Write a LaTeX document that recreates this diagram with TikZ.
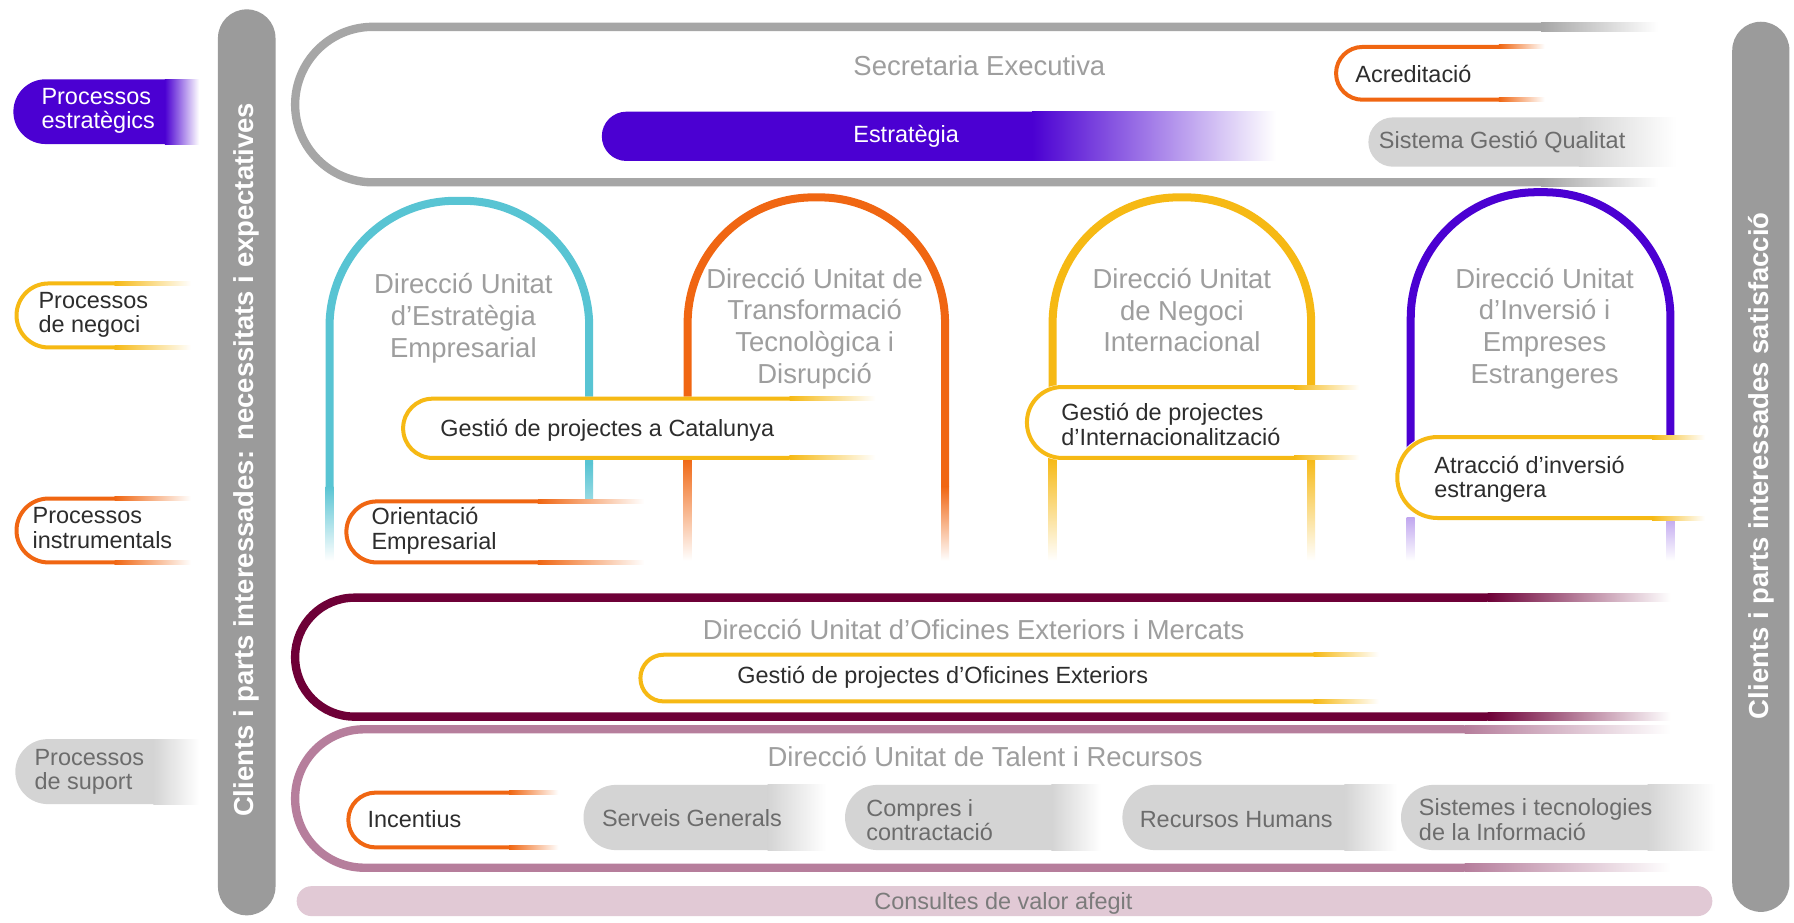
\documentclass[tikz,border=0pt]{standalone}
\usepackage{fontspec}
\setmainfont{Liberation Sans}
\usepackage{tikz}

\definecolor{barg}{RGB}{155,155,155}
\definecolor{boxg}{RGB}{166,166,166}
\definecolor{titg}{RGB}{158,158,158}
\definecolor{lila}{RGB}{75,0,210}
\definecolor{cian}{RGB}{88,196,211}
\definecolor{taronja}{RGB}{240,102,18}
\definecolor{groc}{RGB}{246,185,20}
\definecolor{grana}{RGB}{110,0,55}
\definecolor{malva}{RGB}{182,126,156}
\definecolor{rosa}{RGB}{225,201,213}
\definecolor{gclar}{RGB}{212,212,212}
\definecolor{gfosc}{RGB}{108,108,108}
\definecolor{negre}{RGB}{45,45,45}

\begin{document}
\begin{tikzpicture}
 [x=1pt,y=-1pt,
  gran/.style={font=\fontsize{24}{27.7}\selectfont,text=titg,align=center,inner sep=0pt},
  petit/.style={font=\fontsize{20.5}{21.5}\selectfont,text=negre,align=left,anchor=west,inner sep=0pt},
  vertical/.style={font=\fontsize{24}{27}\selectfont\bfseries,text=white,rotate=90,inner sep=0pt},
  vora/.style={line width=7.3pt},
  arcada/.style={line width=7pt},
  pastilla/.style={line width=3.5pt},
  fadeR/.style={left color=#1,right color=white},
  fadeD/.style={top color=#1,bottom color=white}]
 \fill[white] (0,0) rectangle (1568,806);
 \useasboundingbox (0,0) rectangle (1568,806);
 % barres laterals
 \fill[barg,rounded corners=25] (190.5,8.2) rectangle (240.8,800);
 \node[vertical] (clientsE) at (215.6,402) {Clients i parts interessades: necessitats i expectatives};
 \fill[barg,rounded corners=25] (1514,19) rectangle (1564,797);
 \node[vertical] (clientsS) at (1539,407) {Clients i parts interessades satisfacció};
 % Secretaria Executiva
 \draw[boxg,vora,rounded corners=67.9] (1347,23.45) -- (257.95,23.45) -- (257.95,159.35) -- (1347,159.35);
 \shade[fadeR=boxg] (1347,19.8) rectangle (1449,27.1);
 \shade[fadeR=boxg] (1347,155.7) rectangle (1449,163);
 \node[gran] (secre) at (856,57.4) {Secretaria Executiva};
 \fill[lila,rounded corners=21.5] (526,97.6) rectangle (930,140.7);
 \shade[fadeR=lila] (902,97.6) rectangle (1115,140.7);
 \node[petit,anchor=center,text=white] (estrat) at (792,119) {Estratègia};
 \fill[white,rounded corners=23] (1166,39.3) rectangle (1350,88.9);
 \draw[taronja,pastilla,rounded corners=23] (1310,41.05) -- (1167.75,41.05) -- (1167.75,87.15) -- (1310,87.15);
 \shade[fadeR=taronja] (1310,39.3) rectangle (1350,42.8);
 \shade[fadeR=taronja] (1310,85.4) rectangle (1350,88.9);
 \node[petit] (acred) at (1184.5,64.7) {Acreditació};
 \fill[gclar,rounded corners=21.5] (1196,102.6) rectangle (1405,145.7);
 \shade[fadeR=gclar] (1380,102.6) rectangle (1465,145.7);
 \node[petit,text=gfosc] (sgq) at (1205,124) {Sistema Gestió Qualitat};
 % arcades de les direccions
 \draw[cian,arcada,rounded corners=110] (288,425) -- (288,175.5) -- (515,175.5) -- (515,405);
 \shade[fadeD=cian] (284.5,425) rectangle (291.5,490);
 \shade[fadeD=cian] (511.5,405) rectangle (518.5,490);
 \draw[taronja,arcada,rounded corners=110] (601,400) -- (601,172.5) -- (826,172.5) -- (826,425);
 \shade[fadeD=taronja] (597.5,400) rectangle (604.5,490);
 \shade[fadeD=taronja] (822.5,425) rectangle (829.5,490);
 \draw[groc,arcada,rounded corners=110] (920,400) -- (920,172.5) -- (1146,172.5) -- (1146,400);
 \shade[fadeD=groc] (916.5,400) rectangle (923.5,490);
 \shade[fadeD=groc] (1142.5,400) rectangle (1149.5,490);
 \draw[lila,arcada,rounded corners=110] (1233,440) -- (1233,168) -- (1460,168) -- (1460,440);
 \shade[fadeD=lila!35] (1229.5,452) rectangle (1236.5,490);
 \shade[fadeD=lila!35] (1456.5,452) rectangle (1463.5,490);
 \node[gran] (deuE) at (405,278) {Direcció Unitat\\d’Estratègia\\Empresarial};
 \node[gran] (deuT) at (712,287) {Direcció Unitat de\\Transformació\\Tecnològica i\\Disrupció};
 \node[gran] (deuN) at (1033,271) {Direcció Unitat\\de Negoci\\Internacional};
 \node[gran] (deuI) at (1350,287) {Direcció Unitat\\d’Inversió i\\Empreses\\Estrangeres};
 % processos de negoci i instrumentals
 \fill[white,rounded corners=25.8] (350.6,346.7) rectangle (765,402);
 \draw[groc,pastilla,rounded corners=25.8] (690,348.45) -- (352.35,348.45) -- (352.35,400.25) -- (690,400.25);
 \shade[fadeR=groc] (690,346.7) rectangle (765,350.2);
 \shade[fadeR=groc] (690,398.5) rectangle (765,402);
 \node[petit] (gpc) at (384.7,376) {Gestió de projectes a Catalunya};
 \fill[white,rounded corners=26.5] (301,436.5) rectangle (563,493.3);
 \draw[taronja,pastilla,rounded corners=26.5] (470,438.25) -- (302.75,438.25) -- (302.75,491.55) -- (470,491.55);
 \shade[fadeR=taronja] (470,436.5) rectangle (563,440);
 \shade[fadeR=taronja] (470,489.8) rectangle (563,493.3);
 \node[petit] (orient) at (324.5,463.7) {Orientació\\Empresarial};
 \fill[white,rounded corners=30.9] (895.8,336.5) rectangle (1188,402);
 \draw[groc,pastilla,rounded corners=30.9] (1131,338.25) -- (897.55,338.25) -- (897.55,400.25) -- (1131,400.25);
 \shade[fadeR=groc] (1131,336.5) rectangle (1188,340);
 \shade[fadeR=groc] (1131,398.5) rectangle (1188,402);
 \node[petit] (gpi) at (927.5,371.2) {Gestió de projectes\\d’Internacionalització};
 \fill[white,rounded corners=35.3] (1219.5,380.2) rectangle (1490,454.5);
 \draw[groc,pastilla,rounded corners=35.3] (1444,381.95) -- (1221.25,381.95) -- (1221.25,452.75) -- (1444,452.75);
 \shade[fadeR=groc] (1444,380.2) rectangle (1490,383.7);
 \shade[fadeR=groc] (1444,451) rectangle (1490,454.5);
 \node[petit] (atrac) at (1253.5,419) {Atracció d’inversió\\estrangera};
 % Oficines Exteriors
 \draw[grana,vora,rounded corners=51.9] (1300,522.35) -- (257.95,522.35) -- (257.95,626.35) -- (1300,626.35);
 \shade[fadeR=grana] (1300,518.7) rectangle (1460,526);
 \shade[fadeR=grana] (1300,622.7) rectangle (1460,630);
 \node[gran] (oficines) at (851,550) {Direcció Unitat d’Oficines Exteriors i Mercats};
 \draw[groc,pastilla,rounded corners=20.3] (1148,572.25) -- (559.75,572.25) -- (559.75,613.05) -- (1148,613.05);
 \shade[fadeR=groc] (1148,570.5) rectangle (1205,574);
 \shade[fadeR=groc] (1148,611.3) rectangle (1205,614.8);
 \node[petit,anchor=center] (gpo) at (824,592.4) {Gestió de projectes d’Oficines Exteriors};
 % Talent i Recursos
 \draw[malva,vora,rounded corners=60.4] (1280,637.4) -- (257.95,637.4) -- (257.95,758.4) -- (1280,758.4);
 \shade[fadeR=malva] (1280,633.75) rectangle (1460,641.05);
 \shade[fadeR=malva] (1280,754.75) rectangle (1460,762.05);
 \node[gran] (talent) at (861,661.4) {Direcció Unitat de Talent i Recursos};
 \draw[taronja,pastilla,rounded corners=23.9] (445,692.75) -- (304.45,692.75) -- (304.45,740.65) -- (445,740.65);
 \shade[fadeR=taronja] (445,691) rectangle (488,694.5);
 \shade[fadeR=taronja] (445,738.9) rectangle (488,742.4);
 \node[petit] (incent) at (321,716.2) {Incentius};
 \fill[gclar,rounded corners=28.4] (510,686) rectangle (701,743);
 \shade[fadeR=gclar] (671,686) rectangle (722,743);
 \node[petit,text=gfosc] (serveis) at (526,715.3) {Serveis Generals};
 \fill[gclar,rounded corners=28.4] (738.6,686) rectangle (949,743);
 \shade[fadeR=gclar] (919,686) rectangle (962,743);
 \node[petit,text=gfosc] (compres) at (757,716.8) {Compres i\\contractació};
 \fill[gclar,rounded corners=28.4] (981,686) rectangle (1205,743);
 \shade[fadeR=gclar] (1175,686) rectangle (1221,743);
 \node[petit,text=gfosc] (rrhh) at (996,716) {Recursos Humans};
 \fill[gclar,rounded corners=28.4] (1224.5,686) rectangle (1470,743);
 \shade[fadeR=gclar] (1440,686) rectangle (1499,743);
 \node[petit,text=gfosc] (sti) at (1240,716.3) {Sistemes i tecnologies\\de la Informació};
 % consultes
 \fill[rosa,rounded corners=13] (259.3,774.5) rectangle (1496.6,800.7);
 \node[petit,anchor=center,text=gfosc!90] (consult) at (877,789.6) {Consultes de valor afegit};
 % llegenda
 \fill[lila,rounded corners=28.2] (11.7,69.3) rectangle (173,125.9);
 \shade[fadeR=lila] (144,69.3) rectangle (174,125.9);
 \node[petit,text=white] (lest) at (36.1,96.9) {Processos\\estratègics};
 \draw[groc,pastilla,rounded corners=27.9] (100,247.75) -- (14.45,247.75) -- (14.45,303.65) -- (100,303.65);
 \shade[fadeR=groc] (100,246) rectangle (167,249.5);
 \shade[fadeR=groc] (100,301.9) rectangle (167,305.4);
 \node[petit] (lneg) at (33.5,275.3) {Processos\\de negoci};
 \draw[taronja,pastilla,rounded corners=27.8] (100,435.75) -- (14.45,435.75) -- (14.45,491.55) -- (100,491.55);
 \shade[fadeR=taronja] (100,434) rectangle (167,437.5);
 \shade[fadeR=taronja] (100,489.8) rectangle (167,493.3);
 \node[petit] (lins) at (28.4,461.5) {Processos\\instrumentals};
 \fill[gclar,rounded corners=28.4] (13.4,646) rectangle (163,702.8);
 \shade[fadeR=gclar] (134,646) rectangle (174,702.8);
 \node[petit,text=gfosc] (lsup) at (30,674.5) {Processos\\de suport};
\end{tikzpicture}
\end{document}
